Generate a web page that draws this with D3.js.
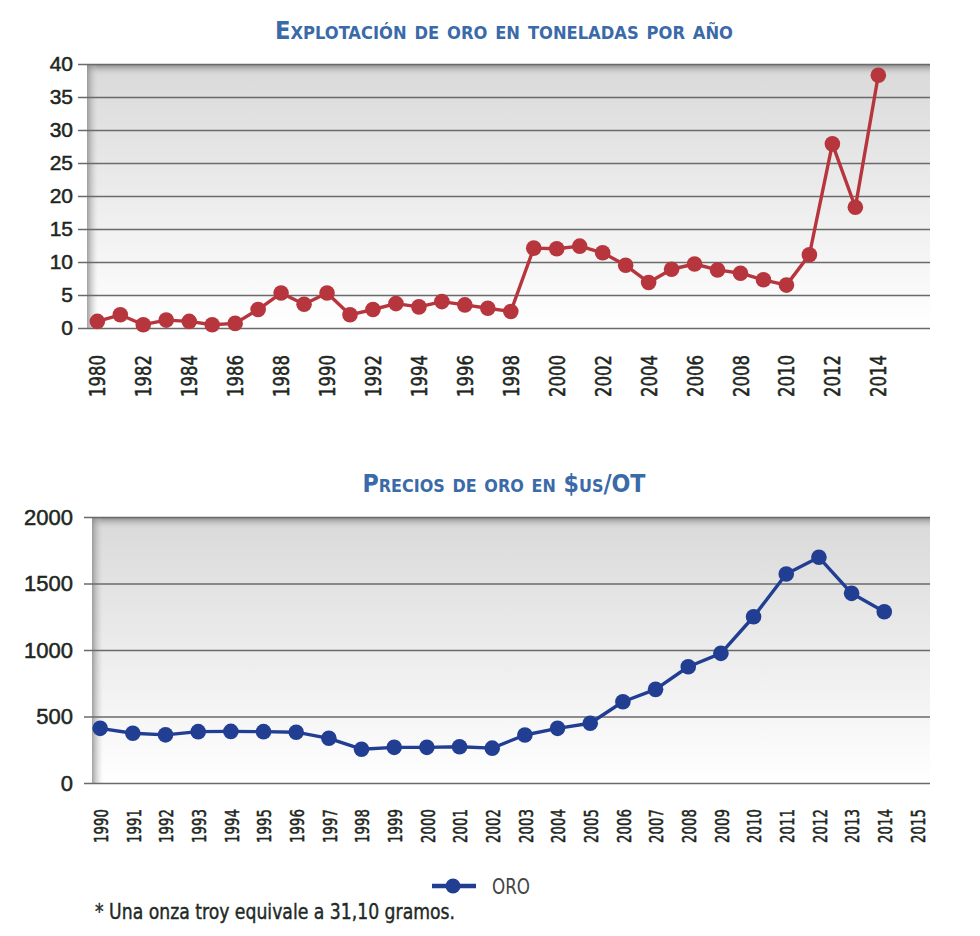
<!DOCTYPE html>
<html>
<head>
<meta charset="utf-8">
<script src="https://cdn.jsdelivr.net/npm/d3@7"></script>
<style>
  body { margin: 0; background: #fff; }
  svg { display: block; }
</style>
</head>
<body>
<script>
// Gold mining, tonnes per year
const mineYears = [1980, 1981, 1982, 1983, 1984, 1985, 1986, 1987, 1988, 1989,
  1990, 1991, 1992, 1993, 1994, 1995, 1996, 1997, 1998, 1999,
  2000, 2001, 2002, 2003, 2004, 2005, 2006, 2007, 2008, 2009,
  2010, 2011, 2012, 2013, 2014];
const mineTonnes = [1.0, 2.0, 0.5, 1.2, 1.0, 0.5, 0.7, 2.8, 5.3, 3.6,
  5.3, 2.0, 2.8, 3.7, 3.2, 4.0, 3.5, 3.0, 2.5, 12.1,
  12.0, 12.4, 11.4, 9.5, 6.9, 8.9, 9.7, 8.8, 8.3, 7.3,
  6.5, 11.1, 27.9, 18.3, 38.3];
const mineYTicks = [0, 5, 10, 15, 20, 25, 30, 35, 40];
const mineXTicks = [1980, 1982, 1984, 1986, 1988, 1990, 1992, 1994, 1996, 1998,
  2000, 2002, 2004, 2006, 2008, 2010, 2012, 2014];

// Gold price, US$ per troy ounce
const priceYears = [1990, 1991, 1992, 1993, 1994, 1995, 1996, 1997, 1998, 1999,
  2000, 2001, 2002, 2003, 2004, 2005, 2006, 2007, 2008, 2009,
  2010, 2011, 2012, 2013, 2014];
const priceUsd = [411, 374, 362, 386, 388, 386, 382, 336, 254, 268,
  268, 273, 262, 361, 411, 449, 611, 704, 874, 975,
  1250, 1571, 1697, 1426, 1288];
const priceYTicks = [0, 500, 1000, 1500, 2000];
const priceXTicks = [1990, 1991, 1992, 1993, 1994, 1995, 1996, 1997, 1998, 1999,
  2000, 2001, 2002, 2003, 2004, 2005, 2006, 2007, 2008, 2009,
  2010, 2011, 2012, 2013, 2014, 2015];

const W = 980, H = 936;
const svg = d3.select("body").append("svg")
    .attr("width", W)
    .attr("height", H);

const defs = svg.append("defs");

// plot background: light grey at top fading to white
const bg = defs.append("linearGradient").attr("id", "bgGrad")
    .attr("x1", 0).attr("y1", 0).attr("x2", 0).attr("y2", 1);
bg.append("stop").attr("offset", "0%").attr("stop-color", "#d9d9d9");
bg.append("stop").attr("offset", "100%").attr("stop-color", "#ffffff");

const topShade = defs.append("linearGradient").attr("id", "topShade")
    .attr("x1", 0).attr("y1", 0).attr("x2", 0).attr("y2", 1);
topShade.append("stop").attr("offset", "0%").attr("stop-color", "#7a7a7a").attr("stop-opacity", 0.9);
topShade.append("stop").attr("offset", "100%").attr("stop-color", "#d9d9d9").attr("stop-opacity", 0);

const leftShade = defs.append("linearGradient").attr("id", "leftShade")
    .attr("x1", 0).attr("y1", 0).attr("x2", 1).attr("y2", 0);
leftShade.append("stop").attr("offset", "0%").attr("stop-color", "#8a8a8a").attr("stop-opacity", 0.8);
leftShade.append("stop").attr("offset", "100%").attr("stop-color", "#cfcfcf").attr("stop-opacity", 0);

const tickFont = "'Liberation Sans', Arial, sans-serif";
const narrowFont = "'DejaVu Sans Condensed', 'Liberation Sans Narrow', sans-serif";
const inkColor = "#1e261e";

function drawChart(opt) {
  const g = svg.append("g");

  const x = d3.scaleLinear().domain(opt.xDomain).range([opt.left, opt.right]);
  const y = d3.scaleLinear().domain([0, d3.max(opt.yTicks)]).range([opt.bottom, opt.top]);

  // shaded plot area
  g.append("rect")
      .attr("x", opt.left).attr("y", opt.top)
      .attr("width", opt.right - opt.left).attr("height", opt.bottom - opt.top)
      .attr("fill", "url(#bgGrad)");
  g.append("rect")
      .attr("x", opt.left).attr("y", opt.top)
      .attr("width", opt.right - opt.left).attr("height", 12)
      .attr("fill", "url(#topShade)");
  g.append("rect")
      .attr("x", opt.left).attr("y", opt.top)
      .attr("width", 11).attr("height", opt.bottom - opt.top)
      .attr("fill", "url(#leftShade)");

  // y axis with gridlines running across the plot
  const yAxis = g.append("g")
      .attr("transform", `translate(${opt.right},0)`)
      .call(d3.axisLeft(y).tickValues(opt.yTicks)
        .tickSize(opt.right - opt.gridStart)
        .tickPadding(opt.yPad)
        .tickFormat(d3.format("d")));
  yAxis.select(".domain").remove();
  yAxis.selectAll("line").attr("stroke", "#6a6a6a").attr("stroke-width", 1.6);
  yAxis.selectAll("text")
      .attr("font-family", tickFont)
      .attr("font-size", opt.yFont)
      .attr("fill", inkColor)
      .attr("stroke", inkColor)
      .attr("stroke-width", 0.5);

  // rotated year labels
  const xAxis = g.append("g")
      .attr("transform", `translate(0,${opt.bottom})`)
      .call(d3.axisBottom(x).tickValues(opt.xTicks).tickSize(0).tickFormat(d3.format("d")));
  xAxis.select(".domain").remove();
  xAxis.selectAll("text")
      .attr("transform", "rotate(-90)")
      .attr("x", -opt.xPad)
      .attr("y", 0)
      .attr("dy", "0.36em")
      .attr("text-anchor", "end")
      .attr("font-family", narrowFont)
      .attr("font-size", opt.xFont)
      .attr("textLength", opt.xLen)
      .attr("lengthAdjust", "spacingAndGlyphs")
      .attr("fill", inkColor)
      .attr("stroke", inkColor)
      .attr("stroke-width", 0.5);

  // series line and markers
  const pts = opt.years.map((yr, i) => [yr, opt.values[i]]);
  g.append("path")
      .datum(pts)
      .attr("fill", "none")
      .attr("stroke", opt.color)
      .attr("stroke-width", 3.4)
      .attr("stroke-linejoin", "round")
      .attr("d", d3.line().x(d => x(d[0])).y(d => y(d[1])));
  g.selectAll(".dot")
      .data(pts)
      .enter().append("circle")
      .attr("cx", d => x(d[0]))
      .attr("cy", d => y(d[1]))
      .attr("r", 7.8)
      .attr("fill", opt.color);

  // title in small caps
  g.append("text")
      .attr("x", opt.titleX)
      .attr("y", opt.titleY)
      .attr("text-anchor", "middle")
      .attr("font-family", narrowFont)
      .attr("font-weight", "bold")
      .attr("font-size", 25)
      .attr("font-variant", "small-caps")
      .attr("fill", "#3a6aa8")
      .attr("textLength", opt.titleW)
      .attr("lengthAdjust", "spacingAndGlyphs")
      .text(opt.title);

  return { x, y };
}

drawChart({
  title: "Explotación de oro en toneladas por año",
  titleX: 504, titleY: 39, titleW: 458,
  years: mineYears, values: mineTonnes,
  yTicks: mineYTicks, xTicks: mineXTicks,
  xDomain: [1979.55, 2016.25],
  left: 87, right: 930, top: 64, bottom: 328,
  gridStart: 78, yPad: 5, yFont: 21,
  xPad: 27, xFont: 21, xLen: 42,
  color: "#b7353d"
});

drawChart({
  title: "Precios de oro en $us/OT",
  titleX: 504, titleY: 492, titleW: 283,
  years: priceYears, values: priceUsd,
  yTicks: priceYTicks, xTicks: priceXTicks,
  xDomain: [1989.75, 2015.4],
  left: 92, right: 930, top: 517, bottom: 783,
  gridStart: 84, yPad: 11, yFont: 22,
  xPad: 26, xFont: 20, xLen: 34,
  color: "#213e93"
});

// legend
const leg = svg.append("g").attr("transform", "translate(432,886)");
leg.append("line")
    .attr("x1", 0).attr("x2", 44).attr("y1", 0).attr("y2", 0)
    .attr("stroke", "#213e93").attr("stroke-width", 4.5);
leg.append("circle")
    .attr("cx", 21).attr("cy", 0).attr("r", 7.5)
    .attr("fill", "#213e93");
leg.append("text")
    .attr("x", 60).attr("y", 0).attr("dy", "0.36em")
    .attr("font-family", narrowFont)
    .attr("font-size", 21)
    .attr("fill", "#444")
    .attr("textLength", 38)
    .attr("lengthAdjust", "spacingAndGlyphs")
    .text("ORO");

// footnote
svg.append("text")
    .attr("x", 95).attr("y", 919)
    .attr("font-family", narrowFont)
    .attr("font-size", 21)
    .attr("fill", "#1e2a26")
    .attr("stroke", "#1e2a26")
    .attr("stroke-width", 0.4)
    .attr("textLength", 360)
    .attr("lengthAdjust", "spacingAndGlyphs")
    .text("* Una onza troy equivale a 31,10 gramos.");
</script>
</body>
</html>
